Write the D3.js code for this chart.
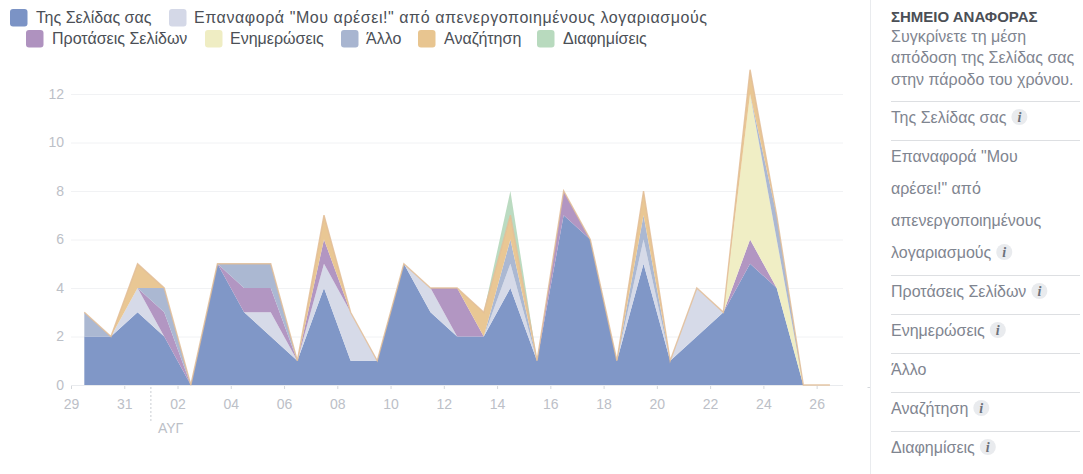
<!DOCTYPE html>
<html lang="el">
<head>
<meta charset="utf-8">
<script src="https://cdnjs.cloudflare.com/ajax/libs/d3/7.8.5/d3.min.js"></script>
<style>
  html, body { margin: 0; padding: 0; background: #fff; }
  svg { display: block; font-family: "Liberation Sans", Arial, sans-serif; }
</style>
</head>
<body>
<svg id="chart" width="1083" height="474"></svg>
<script>
// Daily page-like sources, 29 July to 26 August
const startDate = "2018-07-29";
const seriesNames = ["Της Σελίδας σας", "Επαναφορά \"Μου αρέσει!\" από απενεργοποιημένους λογαριασμούς",
  "Προτάσεις Σελίδων", "Ενημερώσεις", "Άλλο", "Αναζήτηση", "Διαφημίσεις"];
const seriesColors = ["#7b93c5", "#d4d8e7", "#af92bf", "#efedc3", "#a8b5d0", "#e8c590", "#b8dabe"];

const ownPage   = [2,2,3,2,0,5,3,2,1,4,1,1,5,3,2,2,4,1,7,6,1,5,1,2,3,5,4,0,0];
const reactived = [0,0,1,0,0,0,0,1,0,1,2,0,0,1,0,0,1,0,0,0,0,1,0,2,0,0,0,0,0];
const proposals = [0,0,0,1,0,0,1,1,0,1,0,0,0,0,2,0,0,0,1,0,0,0,0,0,0,1,0,0,0];
const updates   = [0,0,0,0,0,0,0,0,0,0,0,0,0,0,0,0,0,0,0,0,0,0,0,0,0,6,2,0,0];
const other     = [1,0,0,1,0,0,1,1,0,0,0,0,0,0,0,0,1,0,0,0,0,1,0,0,0,0,1,0,0];
const search    = [0,0,1,0,0,0,0,0,0,1,0,0,0,0,0,1,1,0,0,0,0,1,0,0,0,1,0,0,0];
const ads       = [0,0,0,0,0,0,0,0,0,0,0,0,0,0,0,0,1,0,0,0,0,0,0,0,0,0,0,0,0];
const seriesValues = [ownPage, reactived, proposals, updates, other, search, ads];

const yTicks = [0, 2, 4, 6, 8, 10, 12];
const xTickLabels = ["29","31","02","04","06","08","10","12","14","16","18","20","22","24","26"];

const panelTitle = "ΣΗΜΕΙΟ ΑΝΑΦΟΡΑΣ";
const panelIntro = ["Συγκρίνετε τη μέση", "απόδοση της Σελίδας σας", "στην πάροδο του χρόνου."];
const panelItems = [
  { lines: ["Της Σελίδας σας"], icon: true },
  { lines: ["Επαναφορά \"Μου", "αρέσει!\" από", "απενεργοποιημένους", "λογαριασμούς"], icon: true },
  { lines: ["Προτάσεις Σελίδων"], icon: true },
  { lines: ["Ενημερώσεις"], icon: true },
  { lines: ["Άλλο"], icon: false },
  { lines: ["Αναζήτηση"], icon: true },
  { lines: ["Διαφημίσεις"], icon: true }
];

const svg = d3.select("#chart");
const day = 864e5;
const t0 = Date.parse(startDate + "T00:00:00Z");

// Each day's value sits in the middle of its day on the time axis
const dates = ownPage.map((_, i) => new Date(t0 + (i + 0.5) * day));
const rows = dates.map((date, i) => {
  const row = { date };
  seriesNames.forEach((n, s) => { row[n] = seriesValues[s][i]; });
  return row;
});
const stacked = d3.stack().keys(seriesNames)(rows);

const x = d3.scaleUtc()
  .domain([new Date(t0), new Date(t0 + 29 * day)])
  .range([71, 71 + 29 * 26.63]);
const y = d3.scaleLinear().domain([0, 12]).range([385, 94]);
const gridRight = 843;

// Horizontal grid
svg.append("g").selectAll("line").data(yTicks.slice(1)).join("line")
  .attr("x1", 71).attr("x2", gridRight)
  .attr("y1", d => y(d) + 0.5).attr("y2", d => y(d) + 0.5)
  .attr("stroke", "#f1f2f4");

// Stacked areas, first series at the bottom
const area = d3.area()
  .x(d => x(d.data.date))
  .y0(d => y(d[0]))
  .y1(d => y(d[1]));
svg.append("g").selectAll("path").data(stacked).join("path")
  .attr("d", area)
  .attr("fill", (d, i) => seriesColors[i])
  .attr("fill-opacity", 0.96);

// Axes
const tickDates = xTickLabels.map((_, i) => new Date(t0 + i * 2 * day));
const xAxis = d3.axisBottom(x)
  .tickValues(tickDates)
  .tickFormat((d, i) => xTickLabels[i])
  .tickSize(4)
  .tickPadding(10);
const xg = svg.append("g").attr("transform", "translate(0,385)").call(xAxis);
xg.select(".domain").remove();
xg.append("line").attr("x1", 71).attr("x2", gridRight).attr("y1", 0.5).attr("y2", 0.5).attr("stroke", "#e9ebee");
xg.selectAll(".tick line").attr("stroke", "#d5d8dc");
xg.selectAll(".tick text").attr("fill", "#bcc0c7").attr("font-size", 14).attr("font-family", "Liberation Sans");

const yAxis = d3.axisLeft(y).tickValues(yTicks).tickSize(0).tickPadding(0).tickFormat(d3.format("d"));
const yg = svg.append("g").attr("transform", "translate(64,0)").call(yAxis);
yg.select(".domain").remove();
yg.selectAll(".tick text").attr("fill", "#bcc0c7").attr("font-size", 14).attr("font-family", "Liberation Sans");

// Thin outline along the top of the search layer, visible where the layers collapse to zero
const topLine = d3.line().x(d => x(d.data.date)).y(d => y(d[1]));
svg.append("path")
  .datum(stacked[5])
  .attr("d", topLine)
  .attr("fill", "none")
  .attr("stroke", "#e2bd96")
  .attr("stroke-width", 1.4)
  .attr("stroke-opacity", 0.85);

// Month boundary marker
const monthX = x(new Date(Date.UTC(2018, 7, 1)));
svg.append("line")
  .attr("x1", monthX).attr("x2", monthX).attr("y1", 387).attr("y2", 423)
  .attr("stroke", "#c9cdd2").attr("stroke-dasharray", "2,2");
svg.append("text").attr("x", monthX + 7).attr("y", 433)
  .attr("font-size", 14).attr("fill", "#bcc0c7").text("ΑΥΓ");

// Legend in two rows
const longLabelWidth = 513;
const legendRows = [
  { sw: [10, 169], text: [36, 194], y: 9, items: [0, 1] },
  { sw: [26, 205, 341, 418, 537], text: [52, 230, 366, 444, 563], y: 30, items: [2, 3, 4, 5, 6] }
];
legendRows.forEach(r => {
  const g = svg.append("g");
  r.items.forEach((s, k) => {
    g.append("rect").attr("x", r.sw[k]).attr("y", r.y).attr("width", 17.5).attr("height", 17.5)
      .attr("rx", 3).attr("fill", seriesColors[s]);
    const label = g.append("text").attr("x", r.text[k]).attr("y", r.y + 14)
      .attr("font-size", 16).attr("fill", "#4b4f56").text(seriesNames[s]);
    if (s === 1) label.attr("textLength", longLabelWidth).attr("lengthAdjust", "spacing");
  });
});

// Benchmark side panel
const panel = svg.append("g");
panel.append("line").attr("x1", 870.5).attr("x2", 870.5).attr("y1", 0).attr("y2", 474).attr("stroke", "#e9ebee");
panel.append("line").attr("x1", 867.5).attr("x2", 870).attr("y1", 387.5).attr("y2", 387.5).attr("stroke", "#d5d8dc");
panel.append("text").attr("x", 891).attr("y", 22).attr("font-size", 15).attr("font-weight", "bold")
  .attr("fill", "#4b4f56").text(panelTitle);
panelIntro.forEach((t, i) => {
  panel.append("text").attr("x", 891).attr("y", 41.5 + i * 21.7).attr("font-size", 16)
    .attr("fill", "#7f8590").text(t);
});
const itemLineStep = 32;
let cursor = 101;
panelItems.forEach(item => {
  panel.append("line").attr("x1", 891).attr("x2", 1080).attr("y1", cursor + 0.5).attr("y2", cursor + 0.5)
    .attr("stroke", "#dddfe2");
  const lineStep = item.lines.length > 1 ? itemLineStep : 0;
  let last = null;
  item.lines.forEach((t, i) => {
    last = panel.append("text").attr("x", 891).attr("y", cursor + 21.5 + i * lineStep)
      .attr("font-size", 16).attr("fill", "#7f8590").text(t);
  });
  const baseline = cursor + 21.5 + (item.lines.length - 1) * lineStep;
  if (item.icon) {
    const cx = 891 + last.node().getComputedTextLength() + 13;
    panel.append("circle").attr("cx", cx).attr("cy", baseline - 5.5).attr("r", 8).attr("fill", "#e9ebee");
    panel.append("text").attr("x", cx).attr("y", baseline - 1).attr("text-anchor", "middle")
      .attr("font-family", "Liberation Serif").attr("font-style", "italic").attr("font-weight", "bold")
      .attr("font-size", 14).attr("fill", "#6b7079").text("i");
  }
  cursor += item.lines.length > 1 ? 135 : 39;
});
</script>
</body>
</html>
